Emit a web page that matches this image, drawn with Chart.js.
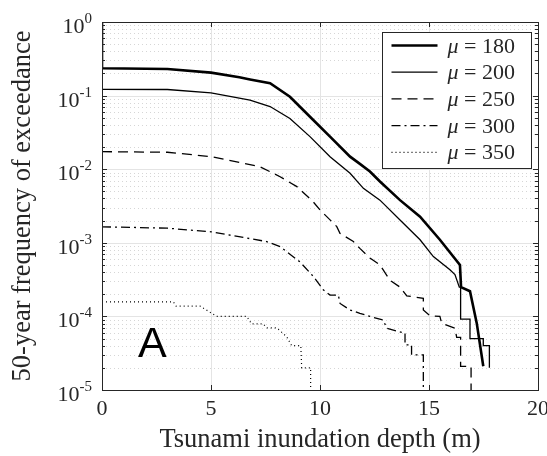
<!DOCTYPE html>
<html>
<head>
<meta charset="utf-8">
<script src="https://cdn.jsdelivr.net/npm/chart.js@4/dist/chart.umd.min.js"></script>
<style>
  html, body { margin: 0; padding: 0; background: #fff; }
</style>
</head>
<body>
<canvas id="chart" width="547" height="456"></canvas>
<script>
const muValues = [180, 200, 250, 300, 350];

// exceedance curves (depth in m, 50-year frequency)
const depth180 = [0, 0, 3, 5, 6.3, 6.79, 7.71, 8.62, 9.54, 10.46, 11.38, 11.83, 12.29, 12.75, 13.67, 14.59, 15.5, 16.42, 16.47, 16.88, 17.19, 17.49];
const freq180 = [1, 0.235, 0.23, 0.205, 0.178, 0.166, 0.147, 0.0966, 0.0516, 0.0277, 0.0148, 0.0118, 0.0093, 0.0068, 0.0038, 0.00226, 0.0011, 0.0005, 0.00025, 0.00022, 0.000081, 0.000021];

const depth200 = [0, 0, 3, 5, 6.79, 7.71, 8.62, 9.54, 10.46, 11.38, 11.99, 12.75, 13.67, 14.59, 15.2, 15.96, 16.19, 16.39, 16.45, 16.45, 16.88, 16.88, 17.49, 17.49, 17.77, 17.77];
const freq200 = [1, 0.122, 0.121, 0.109, 0.087, 0.071, 0.049, 0.0277, 0.0148, 0.0088, 0.0055, 0.0038, 0.00204, 0.0011, 0.00065, 0.00043, 0.00037, 0.00025, 0.00025, 0.000092, 0.000092, 0.00005, 0.00005, 0.00004, 0.00004, 0.00002];

const depth250 = [0, 3, 5, 7.25, 8.17, 8.94, 9.69, 10, 10.77, 10.92, 11.53, 11.83, 12.29, 12.75, 13.21, 13.67, 13.98, 14.74, 14.74, 15.05, 15.5, 15.58, 16.19, 16.27, 16.45, 16.45, 16.93, 16.93];
const freq250 = [0.0173, 0.017, 0.0148, 0.0108, 0.0079, 0.0058, 0.0036, 0.0028, 0.00166, 0.00134, 0.00104, 0.00084, 0.00062, 0.0005, 0.00031, 0.00025, 0.00019, 0.000176, 0.000122, 0.000102, 0.0001, 0.000081, 0.000069, 0.000052, 0.000052, 0.000021, 0.000021, 0.000001];

const depth300 = [0, 3, 5, 7.55, 8.17, 9.08, 9.69, 10.15, 10.46, 10.84, 10.92, 11.38, 11.83, 12.29, 12.9, 13.06, 13.82, 13.9, 13.9, 14.2, 14.2, 14.74, 14.74];
const freq300 = [0.00165, 0.00158, 0.00141, 0.00104, 0.00089, 0.00055, 0.00035, 0.00023, 0.000195, 0.000195, 0.00015, 0.000122, 0.00011, 0.0001, 0.000089, 0.000069, 0.00006, 0.00006, 0.000041, 0.000041, 0.00003, 0.00003, 0.000001];

const depth350 = [0, 3.27, 3.4, 4.5, 5.26, 6.64, 6.86, 7.4, 7.55, 8.01, 8.47, 8.7, 9.12, 9.16, 9.57, 9.57];
const freq350 = [0.000158, 0.000158, 0.000138, 0.000138, 0.0001, 0.0001, 0.000079, 0.000079, 0.00007, 0.00007, 0.000053, 0.00004, 0.00004, 0.00002, 0.00002, 0.000001];

const xTicks = [0, 5, 10, 15, 20];
const yDecades = [1, 0.1, 0.01, 0.001, 0.0001, 0.00001];
const yExponents = ['0', '-1', '-2', '-3', '-4', '-5'];
const panelLetter = 'A';

const axisColor = '#262626';
const serif = '"Liberation Serif", "Times New Roman", serif';

function toPoints(xs, ys) {
    return xs.map((d, i) => ({ x: d, y: ys[i] }));
}

function strokeLine(ctx, x1, y1, x2, y2) {
    ctx.beginPath();
    ctx.moveTo(x1, y1);
    ctx.lineTo(x2, y2);
    ctx.stroke();
}

// grid, box, inner ticks, superscript y labels, legend and panel letter
const matlabLook = {
    id: 'matlabLook',
    beforeDatasetsDraw(chart) {
        const { ctx, chartArea: a, scales: { x, y } } = chart;
        ctx.save();
        ctx.lineWidth = 1;
        ctx.strokeStyle = '#d6d6d6';
        ctx.setLineDash([1, 3]);
        for (let e = -5; e < 0; e++) {
            for (let m = 2; m <= 9; m++) {
                const py = Math.round(y.getPixelForValue(m * Math.pow(10, e))) + 0.5;
                strokeLine(ctx, a.left, py, a.right, py);
            }
        }
        ctx.setLineDash([]);
        ctx.strokeStyle = '#e4e4e4';
        xTicks.forEach(v => {
            const px = Math.round(x.getPixelForValue(v)) + 0.5;
            strokeLine(ctx, px, a.top, px, a.bottom);
        });
        yDecades.forEach(v => {
            const py = Math.round(y.getPixelForValue(v)) + 0.5;
            strokeLine(ctx, a.left, py, a.right, py);
        });
        ctx.restore();
    },
    afterDraw(chart) {
        const { ctx, chartArea: a, scales: { x, y } } = chart;
        ctx.save();
        ctx.strokeStyle = axisColor;
        ctx.fillStyle = axisColor;
        ctx.lineWidth = 1;
        ctx.setLineDash([]);

        // inner tick marks
        xTicks.forEach(v => {
            const px = Math.round(x.getPixelForValue(v)) + 0.5;
            strokeLine(ctx, px, a.bottom, px, a.bottom - 5);
            strokeLine(ctx, px, a.top, px, a.top + 5);
        });
        for (let e = -5; e <= 0; e++) {
            for (let m = 1; m <= 9; m++) {
                if (e === 0 && m > 1) break;
                const py = Math.round(y.getPixelForValue(m * Math.pow(10, e))) + 0.5;
                const len = m === 1 ? 5 : 3;
                strokeLine(ctx, a.left, py, a.left + len, py);
                strokeLine(ctx, a.right, py, a.right - len, py);
            }
        }
        ctx.strokeRect(Math.round(a.left) + 0.5, Math.round(a.top) + 0.5,
            Math.round(a.right - a.left), Math.round(a.bottom - a.top));

        // y tick labels, 10 with a raised exponent
        ctx.textBaseline = 'alphabetic';
        ctx.textAlign = 'left';
        yDecades.forEach((v, i) => {
            const py = y.getPixelForValue(v);
            ctx.font = '15px ' + serif;
            const expW = ctx.measureText(yExponents[i]).width;
            ctx.font = '22px ' + serif;
            const tenW = ctx.measureText('10').width;
            const right = a.left - 10;
            ctx.fillText('10', right - expW - tenW, py + 11);
            ctx.font = '15px ' + serif;
            ctx.fillText(yExponents[i], right - expW, py + 1);
        });

        // legend box
        const boxW = 149, boxH = 136;
        const bx = Math.round(a.right - 7 - boxW) + 0.5;
        const by = Math.round(a.top + 10) + 0.5;
        ctx.fillStyle = '#fff';
        ctx.fillRect(bx, by, boxW, boxH);
        ctx.strokeStyle = axisColor;
        ctx.lineWidth = 1;
        ctx.strokeRect(bx, by, boxW, boxH);
        chart.data.datasets.forEach((ds, i) => {
            const ry = by + 13 + i * 26.7;
            ctx.strokeStyle = '#000';
            ctx.lineWidth = ds.borderWidth;
            ctx.setLineDash(ds.borderDash);
            strokeLine(ctx, bx + 9, ry, bx + 55, ry);
            ctx.setLineDash([]);
            ctx.fillStyle = axisColor;
            ctx.font = 'italic 22px ' + serif;
            ctx.fillText('\u03bc', bx + 65, ry + 7);
            const muW = ctx.measureText('\u03bc').width;
            ctx.font = '22px ' + serif;
            ctx.fillText(' = ' + muValues[i], bx + 65 + muW, ry + 7);
        });

        // panel letter
        ctx.fillStyle = '#000';
        ctx.font = '43px "Liberation Sans", Arial, sans-serif';
        ctx.fillText(panelLetter, a.left + 36, a.bottom - 33);
        ctx.restore();
    }
};

const lineWidths = [2.6, 1.3, 1.3, 1.3, 1.2];
const lineDashes = [[], [], [10, 6], [9, 4, 2, 4], [1, 3]];
const seriesData = [
    toPoints(depth180, freq180),
    toPoints(depth200, freq200),
    toPoints(depth250, freq250),
    toPoints(depth300, freq300),
    toPoints(depth350, freq350)
];

new Chart(document.getElementById('chart'), {
    type: 'line',
    data: {
        datasets: muValues.map((mu, i) => ({
            label: '\u03bc = ' + mu,
            data: seriesData[i],
            borderColor: '#000',
            borderWidth: lineWidths[i],
            borderDash: lineDashes[i],
            pointRadius: 0,
            tension: 0,
            fill: false
        }))
    },
    options: {
        responsive: false,
        animation: false,
        layout: { padding: { top: 22, right: 0, bottom: 0, left: 0 } },
        plugins: {
            legend: { display: false },
            tooltip: { enabled: false }
        },
        scales: {
            x: {
                type: 'linear',
                min: 0,
                max: 20,
                ticks: {
                    stepSize: 5,
                    color: axisColor,
                    font: { family: serif, size: 22 },
                    padding: 6,
                    maxRotation: 0
                },
                grid: { display: false, drawTicks: false },
                border: { display: false },
                title: {
                    display: true,
                    text: 'Tsunami inundation depth (m)',
                    color: axisColor,
                    font: { family: serif, size: 26.5, lineHeight: 1 },
                    padding: { top: 0, bottom: 3 }
                },
                afterFit(scale) {
                    scale.height = 66;
                    scale.paddingRight = 9;
                }
            },
            y: {
                type: 'logarithmic',
                min: 0.00001,
                max: 1,
                ticks: { display: false },
                grid: { display: false, drawTicks: false },
                border: { display: false },
                title: {
                    display: true,
                    text: '50-year frequency of exceedance',
                    color: axisColor,
                    font: { family: serif, size: 26.5, lineHeight: 1 },
                    padding: { top: 10, bottom: 0 }
                },
                afterFit(scale) {
                    scale.width = 102;
                }
            }
        }
    },
    plugins: [matlabLook]
});
</script>
</body>
</html>
